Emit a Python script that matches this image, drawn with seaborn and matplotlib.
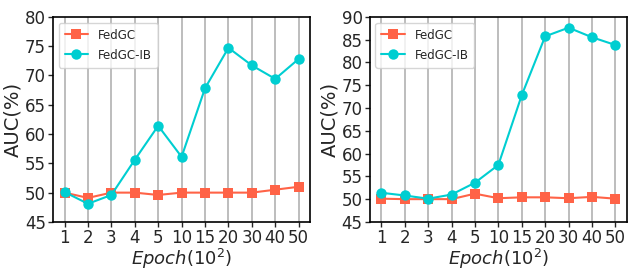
import pandas as pd
import matplotlib
matplotlib.use("Agg")
import matplotlib.pyplot as plt
import seaborn as sns

# data
epochs = ["1", "2", "3", "4", "5", "10", "15", "20", "30", "40", "50"]

left_fedgc = [50.0, 49.1, 50.0, 50.0, 49.6, 50.0, 50.0, 50.0, 50.0, 50.5, 51.0]
left_fedgc_ib = [50.1, 48.1, 49.6, 55.6, 61.4, 56.1, 67.8, 74.7, 71.7, 69.4, 72.8]

right_fedgc = [50.1, 50.0, 50.0, 50.0, 51.2, 50.2, 50.4, 50.4, 50.2, 50.5, 50.1]
right_fedgc_ib = [51.4, 50.8, 50.1, 51.0, 53.6, 57.5, 72.8, 85.7, 87.6, 85.5, 83.8]

methods = ["FedGC", "FedGC-IB"]
colors = {"FedGC": "#FF6347", "FedGC-IB": "#00CED1"}
markers = {"FedGC": "s", "FedGC-IB": "o"}


def to_long(fedgc, fedgc_ib):
    return pd.DataFrame({
        "epoch": epochs * 2,
        "auc": fedgc + fedgc_ib,
        "method": ["FedGC"] * len(epochs) + ["FedGC-IB"] * len(epochs),
    })


sns.set_style("ticks")

fig, axes = plt.subplots(1, 2, figsize=(6.29, 2.70), dpi=100)
fig.subplots_adjust(left=0.084, right=0.997, bottom=0.178, top=0.938, wspace=0.23)

panels = [
    (axes[0], to_long(left_fedgc, left_fedgc_ib), (45, 80)),
    (axes[1], to_long(right_fedgc, right_fedgc_ib), (45, 90)),
]

for ax, df, ylim in panels:
    sns.lineplot(
        data=df, x="epoch", y="auc", hue="method", style="method",
        hue_order=methods, style_order=methods,
        palette=colors, markers=markers, dashes=False, sort=False,
        markersize=7.5, markeredgewidth=0, linewidth=1.5, ax=ax,
    )
    ax.set_ylim(*ylim)
    ax.set_yticks(range(ylim[0], ylim[1] + 1, 5))
    ax.set_xlim(-0.5, len(epochs) - 0.5)
    ax.grid(axis="x", color="#b8b8b8", linewidth=1.3)
    ax.set_axisbelow(True)
    ax.tick_params(axis="both", labelsize=12, length=3.5, width=1, pad=1.5)
    ax.set_xlabel("$Epoch$($10^2$)", fontsize=13, labelpad=0)
    ax.set_ylabel("AUC(%)", fontsize=14, labelpad=2)
    for s in ax.spines.values():
        s.set_color("black")
        s.set_linewidth(1.2)
    leg = ax.legend(loc="upper left", fontsize=8.5, frameon=True,
                    borderpad=0.5, handlelength=2.0, labelspacing=0.6)
    leg.set_title(None)

fig.savefig("out.png", dpi=100)
